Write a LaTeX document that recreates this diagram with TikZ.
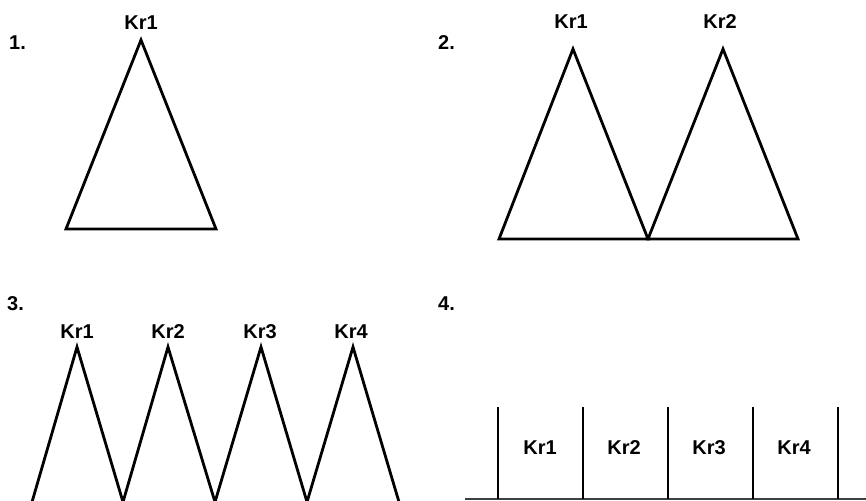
\documentclass[tikz,border=0pt]{standalone}
\usepackage{fontspec}
\setmainfont{Liberation Sans}
\usepackage{tikz}
\usetikzlibrary{positioning}

\begin{document}
\begin{tikzpicture}[
  x=1pt, y=-1pt,
  kr/.style={font=\fontsize{20}{24}\selectfont\bfseries, inner sep=0pt, anchor=base},
  num/.style={font=\fontsize{20}{24}\selectfont\bfseries, inner sep=0pt, anchor=base west},
  edge/.style={line width=2.8pt, line join=miter, black},
  ground/.style={line width=1.8pt, black!75}
]
\useasboundingbox (0,0) rectangle (866,500);

% 1. one peak
\node[num] (n1) at (9,50) {1.};
\coordinate (a1) at (141,40);
\coordinate (l1) at (66,229);
\coordinate (r1) at (216,229);
\node[kr] (k1) at (141,30) {Kr1};
\draw[edge] (l1) -- (a1) -- (r1) -- cycle;

% 2. two peaks
\node[num] (n2) at (438,50) {2.};
\coordinate (b0) at (499,239);
\coordinate (b1) at (573,49);
\coordinate (b2) at (648,239);
\coordinate (b3) at (723,49);
\coordinate (b4) at (798,239);
\node[kr] (kb1) at (571,29) {Kr1};
\node[kr] (kb2) at (720,29) {Kr2};
\draw[edge] (b0) -- (b1) -- (b2) -- cycle;
\draw[edge] (b2) -- (b3) -- (b4) -- cycle;

% 3. four peaks
\node[num] (n3) at (7,310) {3.};
\coordinate (c0) at (32,502);
\coordinate (c1) at (77,347);
\coordinate (c2) at (123,502);
\coordinate (c3) at (168,347);
\coordinate (c4) at (215,502);
\coordinate (c5) at (261,347);
\coordinate (c6) at (307,502);
\coordinate (c7) at (353,347);
\coordinate (c8) at (399,502);
\node[kr] (kc1) at (77,338) {Kr1};
\node[kr] (kc2) at (168,338) {Kr2};
\node[kr] (kc3) at (260,338) {Kr3};
\node[kr] (kc4) at (351,338) {Kr4};
\draw[edge] (c0) -- (c1) -- (c2) -- (c3) -- (c4) -- (c5) -- (c6) -- (c7) -- (c8);

% 4. columns
\node[num] (n4) at (438,310) {4.};
\coordinate (g0) at (465,499);
\coordinate (g1) at (866,499);
\draw[ground] (g0) -- (g1);
\foreach \x/\i in {498/1,583/2,668/3,753/4,838/5}{
  \coordinate (t\i) at (\x,407);
  \coordinate (f\i) at (\x,499);
  \draw[edge] (t\i) -- (f\i);
}
\node[kr] (kd1) at (540,454) {Kr1};
\node[kr] (kd2) at (624,454) {Kr2};
\node[kr] (kd3) at (709,454) {Kr3};
\node[kr] (kd4) at (794,454) {Kr4};
\end{tikzpicture}
\end{document}
